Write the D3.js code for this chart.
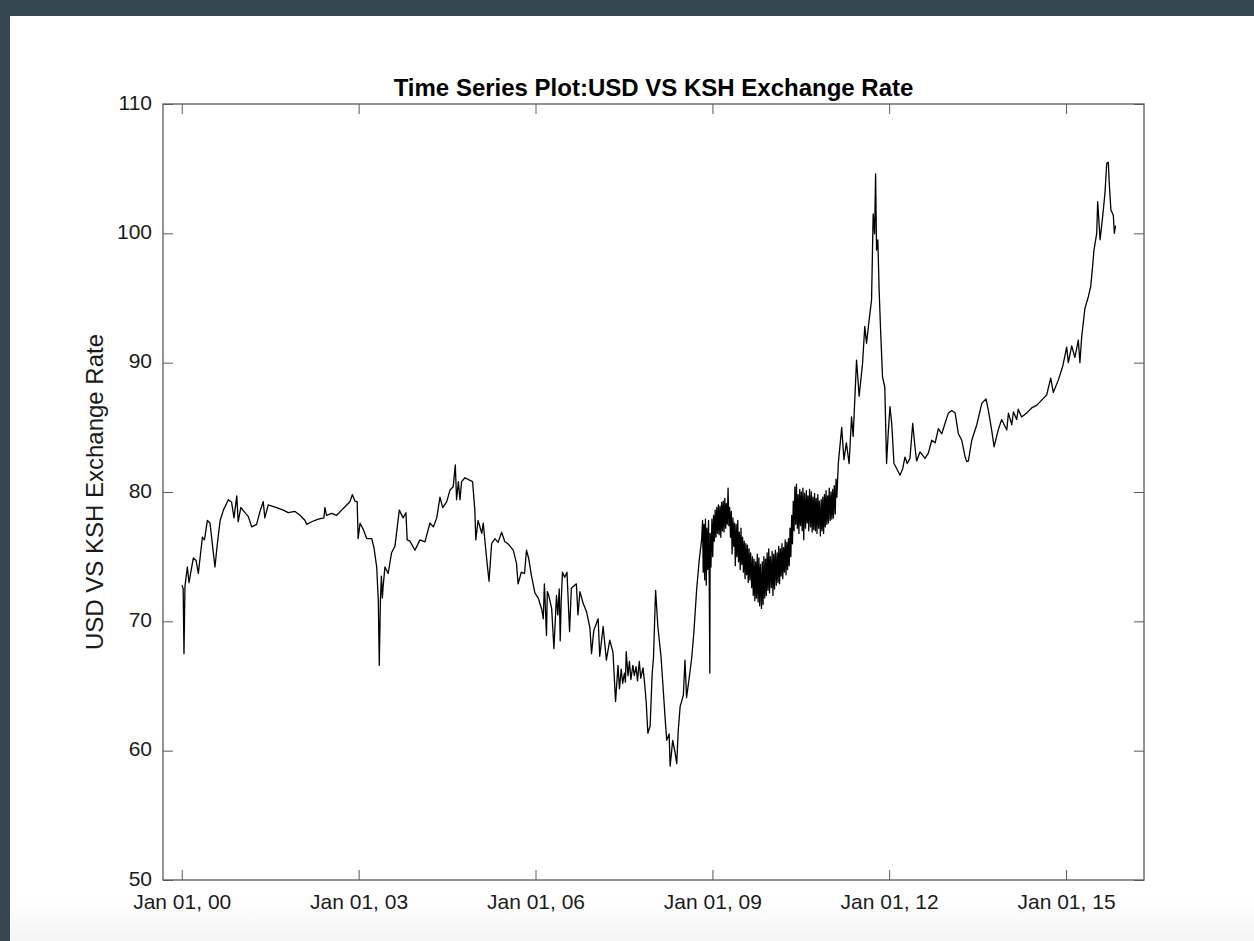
<!DOCTYPE html>
<html>
<head>
<meta charset="utf-8">
<script src="https://cdn.jsdelivr.net/npm/d3@7"></script>
<style>
  html, body { margin: 0; padding: 0; background: #ffffff; }
  svg { display: block; }
</style>
</head>
<body>
<svg id="chart" width="1254" height="941"></svg>
<script>
// USD / KSH exchange rate (KSH per USD), 2000 - late 2008
const datesA = [
  "2000-01-03","2000-01-10","2000-01-15","2000-01-21","2000-02-05","2000-02-15","2000-03-13","2000-03-30",
  "2000-04-13","2000-05-08","2000-05-21","2000-06-08","2000-06-24","2000-07-05","2000-07-25","2000-08-07",
  "2000-08-26","2000-09-15","2000-10-16","2000-11-05","2000-11-20","2000-12-07","2000-12-16","2001-01-01",
  "2001-01-27","2001-02-17","2001-03-09","2001-04-09","2001-04-30","2001-05-20","2001-05-30","2001-06-20",
  "2001-08-11","2001-09-21","2001-10-22","2001-12-03","2002-01-03","2002-02-03","2002-02-13","2002-03-16",
  "2002-04-26","2002-05-31","2002-06-06","2002-06-16","2002-07-18","2002-08-18","2002-09-18","2002-10-19",
  "2002-11-08","2002-11-23","2002-12-09","2002-12-23","2002-12-26","2002-12-29","2003-01-10","2003-01-30",
  "2003-02-20","2003-03-23","2003-04-06","2003-04-23","2003-05-03","2003-05-09","2003-05-16","2003-05-22",
  "2003-05-28","2003-06-02","2003-06-13","2003-07-03","2003-07-24","2003-08-14","2003-09-10","2003-10-04",
  "2003-10-21","2003-10-29","2003-11-15","2003-12-16","2004-01-16","2004-02-16","2004-03-18","2004-04-08",
  "2004-04-29","2004-05-19","2004-06-05","2004-06-30","2004-07-20","2004-08-09","2004-08-22","2004-08-30",
  "2004-09-10","2004-09-20","2004-09-30","2004-10-21","2004-11-21","2004-12-07","2004-12-21","2004-12-27",
  "2005-01-10","2005-02-02","2005-02-11","2005-02-21","2005-03-07","2005-03-19","2005-04-04","2005-04-24",
  "2005-05-14","2005-06-05","2005-06-25","2005-07-14","2005-08-16","2005-09-05","2005-09-15","2005-10-05",
  "2005-10-25","2005-11-06","2005-11-19","2005-12-06","2005-12-28","2006-01-18","2006-02-09","2006-02-18",
  "2006-02-25","2006-03-10","2006-03-15","2006-03-22","2006-04-11","2006-04-25","2006-05-11","2006-05-19",
  "2006-05-28","2006-06-03","2006-06-09","2006-06-17","2006-07-01","2006-07-15","2006-07-31","2006-08-11",
  "2006-09-11","2006-09-21","2006-10-03","2006-10-23","2006-11-13","2006-12-04","2006-12-14","2006-12-28",
  "2007-01-24","2007-02-03","2007-02-24","2007-03-16","2007-04-06","2007-04-26","2007-05-12","2007-05-27",
  "2007-06-05","2007-06-16","2007-06-25","2007-07-06","2007-07-12","2007-07-17","2007-07-28","2007-08-06",
  "2007-08-15","2007-08-27","2007-09-05","2007-09-16","2007-09-25","2007-10-06","2007-10-15",
  "2007-10-29","2007-11-08","2007-11-18","2007-11-28","2007-12-12","2007-12-25","2008-01-02","2008-01-15",
  "2008-01-29","2008-02-18","2008-03-04","2008-03-14","2008-03-24","2008-04-08","2008-04-14","2008-04-30",
  "2008-05-14","2008-05-25","2008-06-03","2008-06-15","2008-07-05","2008-07-15","2008-07-25","2008-08-16",
  "2008-08-26","2008-09-09","2008-09-25","2008-10-11","2008-10-26"
];
const ratesA = [
  72.8,72.5,67.5,72.7,74.2,73.0,74.9,74.7,
  73.7,76.5,76.3,77.8,77.6,76.4,74.2,75.8,
  77.8,78.6,79.4,79.2,78.0,79.7,77.7,78.8,
  78.4,78.1,77.3,77.5,78.5,79.25,78.0,79.0,
  78.8,78.6,78.4,78.5,78.2,77.8,77.5,77.7,
  77.9,78.0,78.8,78.2,78.35,78.2,78.6,79.0,
  79.25,79.8,79.3,79.25,77.8,76.4,77.6,77.1,
  76.4,76.4,75.7,74.2,71.6,66.6,71.6,73.5,
  71.8,72.7,74.2,73.7,75.3,75.8,78.6,78.0,
  78.4,76.3,76.2,75.5,76.3,76.15,77.6,77.3,
  78.0,79.6,78.8,79.25,80.15,80.4,82.1,79.4,
  80.8,79.4,80.8,81.1,80.9,80.8,78.6,76.3,
  77.8,76.8,77.6,76.3,74.5,73.1,76.0,76.4,
  76.1,76.9,76.15,76.0,75.5,74.5,72.9,73.8,
  73.7,75.5,74.9,73.6,72.2,71.8,70.9,70.2,
  72.9,68.9,72.3,72.1,71.0,67.9,72.0,70.5,
  72.5,68.5,71.5,73.8,73.4,73.8,69.2,72.55,
  72.9,70.5,72.3,71.4,70.75,69.5,67.5,69.3,
  70.2,67.3,69.6,67.0,68.55,67.6,63.8,66.6,
  64.8,66.3,65.2,66.0,65.3,67.65,65.8,66.9,
  65.5,66.6,65.8,66.5,65.4,66.9,65.6,
  66.4,65.2,63.7,61.35,61.9,66.0,67.2,72.4,
  69.6,67.2,64.4,62.5,60.8,61.3,58.8,60.8,
  59.9,59.0,61.5,63.4,64.3,67.0,64.1,66.2,
  67.2,69.3,72.4,74.7,76.3
];

// late 2008 - early 2011: choppy trading, daily highs and lows
const datesB = [
  "2008-11-01","2008-11-05","2008-11-10","2008-11-14","2008-11-19","2008-11-24","2008-11-28",
  "2008-12-03","2008-12-08","2008-12-12","2008-12-16","2008-12-18","2008-12-23","2008-12-29",
  "2009-01-03","2009-01-08","2009-01-13","2009-01-18","2009-01-23","2009-01-28",
  "2009-02-02","2009-02-07","2009-02-12","2009-02-17","2009-02-22","2009-02-27",
  "2009-03-04","2009-03-09","2009-03-14","2009-03-19","2009-03-24","2009-03-29",
  "2009-04-03","2009-04-08","2009-04-13","2009-04-18","2009-04-23","2009-04-28",
  "2009-05-03","2009-05-08","2009-05-13","2009-05-18","2009-05-23","2009-05-28",
  "2009-06-02","2009-06-07","2009-06-12","2009-06-17","2009-06-22","2009-06-27",
  "2009-07-02","2009-07-07","2009-07-12","2009-07-17","2009-07-22","2009-07-27",
  "2009-08-01","2009-08-06","2009-08-11","2009-08-16","2009-08-21","2009-08-26",
  "2009-09-01","2009-09-06","2009-09-11","2009-09-16","2009-09-21","2009-09-26",
  "2009-10-01","2009-10-06","2009-10-11","2009-10-16","2009-10-21","2009-10-26",
  "2009-11-01","2009-11-06","2009-11-11","2009-11-16","2009-11-21","2009-11-26",
  "2009-12-01","2009-12-06","2009-12-11","2009-12-16","2009-12-21","2009-12-26",
  "2010-01-01","2010-01-06","2010-01-11","2010-01-16","2010-01-21","2010-01-26",
  "2010-02-01","2010-02-06","2010-02-11","2010-02-16","2010-02-21","2010-02-26",
  "2010-03-03","2010-03-08","2010-03-13","2010-03-18","2010-03-23","2010-03-28",
  "2010-04-02","2010-04-07","2010-04-12","2010-04-17","2010-04-22","2010-04-27",
  "2010-05-02","2010-05-07","2010-05-12","2010-05-17","2010-05-22","2010-05-27",
  "2010-06-01","2010-06-06","2010-06-11","2010-06-16","2010-06-21","2010-06-26",
  "2010-07-01","2010-07-06","2010-07-11","2010-07-16","2010-07-21","2010-07-26",
  "2010-08-01","2010-08-06","2010-08-11","2010-08-16","2010-08-21","2010-08-26",
  "2010-09-01","2010-09-06","2010-09-11","2010-09-16","2010-09-21","2010-09-26",
  "2010-10-01","2010-10-06","2010-10-11","2010-10-16","2010-10-21","2010-10-26",
  "2010-11-01","2010-11-06","2010-11-11","2010-11-16","2010-11-21","2010-11-26",
  "2010-12-01","2010-12-06","2010-12-11","2010-12-16","2010-12-21","2010-12-26",
  "2011-01-01","2011-01-06","2011-01-11","2011-01-16","2011-01-21","2011-01-26",
  "2011-02-01","2011-02-06","2011-02-11"
];
const ratesB = [
  77.8,73.8,77.5,73.2,77.9,72.8,77.2,
  74.0,77.8,73.5,66.0,76.8,74.2,77.9,
  75.0,78.2,76.2,78.6,76.5,78.8,
  76.8,79.0,76.7,78.9,76.5,79.2,
  77.0,79.3,76.9,79.5,77.2,79.1,
  77.5,80.3,77.4,78.8,76.5,78.5,
  75.2,78.0,75.8,77.6,74.3,77.5,
  75.0,77.8,74.6,76.9,74.0,77.2,
  74.4,76.5,73.8,76.2,73.3,76.0,
  73.6,75.9,73.0,75.6,73.2,75.3,
  72.6,75.0,72.0,74.8,71.6,74.6,
  71.8,75.2,71.5,74.9,71.2,74.4,
  71.0,74.6,71.3,75.0,71.8,74.8,
  72.0,75.3,72.4,75.6,72.2,75.0,
  72.6,75.4,72.0,75.2,72.5,75.5,
  72.8,75.3,73.0,75.8,72.9,75.6,
  73.5,76.0,73.3,75.7,73.8,76.3,
  73.6,76.1,74.0,76.4,74.3,77.2,
  75.0,78.2,76.0,79.3,77.0,80.4,
  77.5,80.6,77.2,79.8,76.8,80.2,
  77.4,80.0,77.0,80.3,76.3,79.9,
  77.2,80.1,77.6,79.7,77.0,80.2,
  77.3,80.0,76.9,79.6,77.1,79.9,
  77.0,79.5,76.8,79.8,77.2,79.3,
  76.6,79.4,77.0,79.6,76.8,79.8,
  77.3,80.1,77.5,79.7,77.6,80.3,
  77.8,80.0,77.9,80.2,78.0,80.5,
  78.3,81.0,79.6
];

// 2011 - 2015
const datesC = [
  "2011-02-20","2011-03-13","2011-03-27","2011-04-11","2011-04-28","2011-05-13",
  "2011-05-23","2011-06-13","2011-06-29","2011-07-20","2011-08-03","2011-08-14","2011-08-30","2011-09-14",
  "2011-09-24","2011-10-03","2011-10-09","2011-10-15","2011-10-23","2011-10-31","2011-11-09","2011-11-21",
  "2011-12-05","2011-12-16","2011-12-26","2012-01-06","2012-01-17","2012-01-31","2012-02-21","2012-03-08",
  "2012-03-25","2012-04-08","2012-04-22","2012-05-09","2012-05-26","2012-06-09","2012-06-19","2012-07-10",
  "2012-08-10","2012-08-31","2012-09-21","2012-10-12","2012-11-01","2012-11-22","2012-12-12","2013-01-02",
  "2013-01-23","2013-02-13","2013-03-05","2013-03-26","2013-04-16","2013-04-26","2013-05-06","2013-05-27",
  "2013-06-27","2013-07-28","2013-08-23","2013-09-07","2013-09-27","2013-10-12","2013-11-07","2013-11-28",
  "2013-12-30","2014-01-09","2014-01-30","2014-02-09","2014-03-01","2014-03-11","2014-04-01","2014-05-02",
  "2014-06-02","2014-07-03","2014-08-03","2014-09-03","2014-09-28","2014-10-14","2014-11-14","2014-12-11",
  "2015-01-05","2015-01-15","2015-02-05","2015-02-25","2015-03-18","2015-03-28","2015-04-08","2015-04-28",
  "2015-05-19","2015-06-03","2015-06-15","2015-06-23","2015-07-10","2015-07-16","2015-07-31","2015-08-16",
  "2015-08-30","2015-09-10","2015-09-20","2015-09-26","2015-10-06","2015-10-21","2015-10-27","2015-11-04"
];
const ratesC = [
  82.2,85.0,82.5,83.8,82.2,85.8,
  84.3,90.2,87.4,89.9,92.8,91.5,93.3,94.85,
  101.5,99.96,104.6,98.7,99.5,95.6,92.5,88.9,
  88.1,82.2,84.5,86.6,85.3,82.2,81.7,81.3,
  81.8,82.7,82.2,82.6,85.3,83.5,82.4,83.1,
  82.6,83.0,84.0,83.8,84.9,84.5,85.3,86.1,
  86.3,86.1,84.5,84.0,82.7,82.35,82.4,84.0,
  85.2,86.85,87.2,86.3,84.8,83.5,84.8,85.6,
  84.8,86.1,85.2,86.2,85.6,86.4,85.8,86.1,
  86.5,86.7,87.1,87.5,88.8,87.7,88.65,89.7,
  91.2,90.0,91.3,90.4,91.75,90.0,92.0,94.2,
  95.1,95.9,97.5,98.7,100.0,102.45,99.5,101.3,
  103.1,105.4,105.5,103.8,101.8,101.4,100.0,100.6
];

// Axis settings
const xDomain = ["1999-09-07", "2016-04-28"];
const xTickDates = ["2000-01-01","2003-01-01","2006-01-01","2009-01-01","2012-01-01","2015-01-01"];
const yDomain = [50, 110];
const yTickValues = [50, 60, 70, 80, 90, 100, 110];
const titleText = "Time Series Plot:USD VS KSH Exchange Rate";
const yLabelText = "USD VS KSH Exchange Rate";

const parse = d3.utcParse("%Y-%m-%d");
const allDates = datesA.concat(datesB, datesC);
const allRates = ratesA.concat(ratesB, ratesC);
const series = allDates.map((d, i) => ({ date: parse(d), value: allRates[i] }));

const W = 1254, H = 941;
const plot = { left: 163, top: 104, right: 1144, bottom: 880 };
const FONT = "'Liberation Sans', Arial, Helvetica, sans-serif";
const AXIS_COLOR = "#5a5a5a";
const TICK_LEN = 10;

const svg = d3.select("#chart");

// page background: dark frame, white canvas, soft grey fade at the bottom
const defs = svg.append("defs");
const grad = defs.append("linearGradient").attr("id", "bottomFade")
  .attr("x1", 0).attr("y1", 0).attr("x2", 0).attr("y2", 1);
grad.append("stop").attr("offset", "0%").attr("stop-color", "#ffffff");
grad.append("stop").attr("offset", "100%").attr("stop-color", "#f4f4f4");

svg.append("rect").attr("x", 0).attr("y", 0).attr("width", W).attr("height", H).attr("fill", "#37474f");
svg.append("rect").attr("x", 10).attr("y", 16).attr("width", W - 10).attr("height", H - 16).attr("fill", "#ffffff");
svg.append("rect").attr("x", 10).attr("y", 900).attr("width", W - 10).attr("height", H - 900).attr("fill", "url(#bottomFade)");

const x = d3.scaleUtc()
  .domain(xDomain.map(parse))
  .range([plot.left, plot.right]);
const y = d3.scaleLinear()
  .domain(yDomain)
  .range([plot.bottom, plot.top]);

const fmt = d3.utcFormat("%b %d, %y");
const xTicks = xTickDates.map(parse);

// bottom axis with labels, ticks pointing inward
const xAxisBottom = d3.axisBottom(x).tickValues(xTicks).tickFormat(fmt)
  .tickSizeInner(-TICK_LEN).tickSizeOuter(0).tickPadding(14);
const gxb = svg.append("g").attr("transform", `translate(0,${plot.bottom})`).call(xAxisBottom);

// top axis, ticks only
const xAxisTop = d3.axisTop(x).tickValues(xTicks).tickFormat("")
  .tickSizeInner(-TICK_LEN).tickSizeOuter(0);
const gxt = svg.append("g").attr("transform", `translate(0,${plot.top})`).call(xAxisTop);

// left axis with labels
const yAxisLeft = d3.axisLeft(y).tickValues(yTickValues).tickFormat(d3.format("d"))
  .tickSizeInner(-TICK_LEN).tickSizeOuter(0).tickPadding(11);
const gyl = svg.append("g").attr("transform", `translate(${plot.left},0)`).call(yAxisLeft);

// right axis, ticks only
const yAxisRight = d3.axisRight(y).tickValues(yTickValues).tickFormat("")
  .tickSizeInner(-TICK_LEN).tickSizeOuter(0);
const gyr = svg.append("g").attr("transform", `translate(${plot.right},0)`).call(yAxisRight);

[gxb, gxt, gyl, gyr].forEach(g => {
  g.select(".domain").remove();
  g.selectAll(".tick line").attr("stroke", AXIS_COLOR).attr("stroke-width", 1);
  g.selectAll(".tick text").attr("fill", "#1a1a1a").style("font-family", FONT).style("font-size", "21px");
});
gxb.selectAll(".tick text").attr("dy", "0.71em");
gyl.selectAll(".tick text").attr("dy", "0.24em");

// plot box
svg.append("rect")
  .attr("x", plot.left).attr("y", plot.top)
  .attr("width", plot.right - plot.left).attr("height", plot.bottom - plot.top)
  .attr("fill", "none").attr("stroke", AXIS_COLOR).attr("stroke-width", 1.3);

// exchange rate line
const line = d3.line()
  .x(d => x(d.date))
  .y(d => y(d.value));
svg.append("path")
  .datum(series)
  .attr("d", line)
  .attr("fill", "none")
  .attr("stroke", "#000000")
  .attr("stroke-width", 1.3)
  .attr("stroke-linejoin", "round");

// title
svg.append("text")
  .attr("x", (plot.left + plot.right) / 2)
  .attr("y", plot.top - 8)
  .attr("text-anchor", "middle")
  .style("font-family", FONT)
  .style("font-size", "24px")
  .style("font-weight", "bold")
  .attr("fill", "#000")
  .text(titleText);

// y-axis label
svg.append("text")
  .attr("transform", `translate(103,${(plot.top + plot.bottom) / 2}) rotate(-90)`)
  .attr("text-anchor", "middle")
  .style("font-family", FONT)
  .style("font-size", "24px")
  .attr("fill", "#1a1a1a")
  .text(yLabelText);
</script>
</body>
</html>
